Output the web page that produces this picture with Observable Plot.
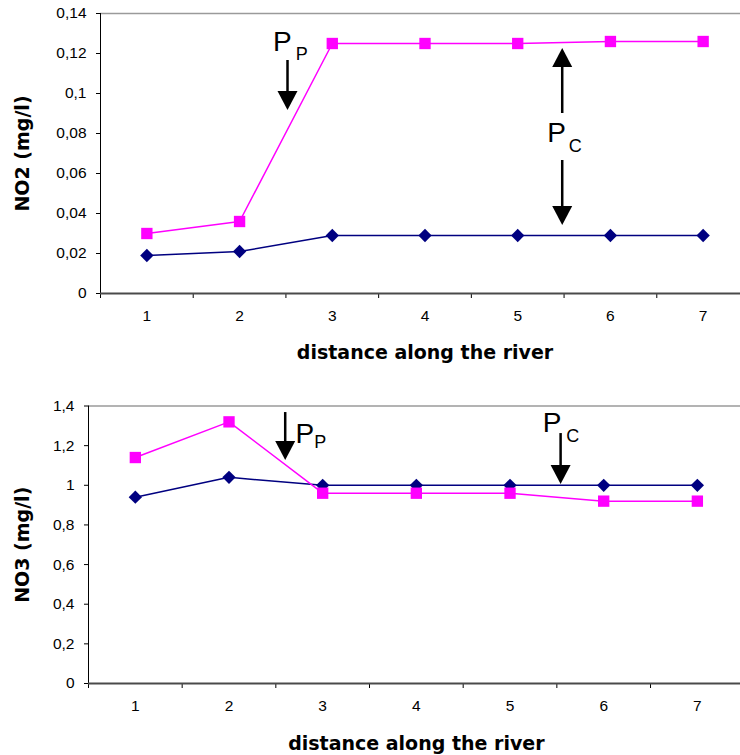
<!DOCTYPE html>
<html>
<head>
<meta charset="utf-8">
<script src="https://cdn.jsdelivr.net/npm/d3@7"></script>
<script src="https://cdn.jsdelivr.net/npm/@observablehq/plot@0.6"></script>
<style>
  html, body { margin: 0; padding: 0; background: #fff; overflow: hidden; width: 740px; height: 755px; }
  #chart > div, #chart svg { display: block; }
</style>
</head>
<body>
<div id="chart"></div>
<script>
// ---------- data ----------
const distance = [1, 2, 3, 4, 5, 6, 7];
const distanceLabels = ["1", "2", "3", "4", "5", "6", "7"];

const no2Pink = [0.030, 0.036, 0.125, 0.125, 0.125, 0.126, 0.126];
const no2Navy = [0.019, 0.021, 0.029, 0.029, 0.029, 0.029, 0.029];

const no3Pink = [1.14, 1.32, 0.96, 0.96, 0.96, 0.92, 0.92];
const no3Navy = [0.94, 1.04, 1.00, 1.00, 1.00, 1.00, 1.00];

const no2Ticks = [0, 0.02, 0.04, 0.06, 0.08, 0.10, 0.12, 0.14];
const no2TickLabels = ["0", "0,02", "0,04", "0,06", "0,08", "0,1", "0,12", "0,14"];
const no3Ticks = [0, 0.2, 0.4, 0.6, 0.8, 1.0, 1.2, 1.4];
const no3TickLabels = ["0", "0,2", "0,4", "0,6", "0,8", "1", "1,2", "1,4"];

const xTitle = "distance along the river";
const no2Title = "NO2 (mg/l)";
const no3Title = "NO3 (mg/l)";

// annotations (data coordinates)
const no2Shafts = [
  {x: 2.517, y1: 0.1165, y2: 0.1005},
  {x: 5.48, y1: 0.114, y2: 0.090},
  {x: 5.48, y1: 0.0665, y2: 0.043}
];
const no2Heads = [
  {x: 2.517, y: 0.0965, rot: 0},
  {x: 5.48, y: 0.118, rot: 180},
  {x: 5.48, y: 0.039, rot: 0}
];
const no2Labels = [
  {x: 2.46, y: 0.1255, t: "P", big: true},
  {x: 2.67, y: 0.1195, t: "P", big: false},
  {x: 5.42, y: 0.080, t: "P", big: true},
  {x: 5.62, y: 0.0735, t: "C", big: false}
];
const no3Shafts = [
  {x: 2.60, y1: 1.367, y2: 1.216},
  {x: 5.54, y1: 1.261, y2: 1.090}
];
const no3Heads = [
  {x: 2.60, y: 1.176, rot: 0},
  {x: 5.54, y: 1.054, rot: 0}
];
const no3Labels = [
  {x: 2.81, y: 1.261, t: "P", big: true},
  {x: 2.975, y: 1.216, t: "P", big: false},
  {x: 5.45, y: 1.312, t: "P", big: true},
  {x: 5.67, y: 1.246, t: "C", big: false}
];

// ---------- helpers ----------
const edges = distance.map(d => d - 0.5).concat([distance[distance.length - 1] + 0.5]);
const rows = (ys) => distance.map((d, i) => ({x: d, y: ys[i]}));

const arrowHead = {
  draw(context, size) {
    const r = Math.sqrt(size / Math.PI);
    context.moveTo(-r, -r * 0.95);
    context.lineTo(r, -r * 0.95);
    context.lineTo(0, r * 0.95);
    context.closePath();
  }
};

function chart({pink, navy, ticks, tickLabels, title, shafts, heads, labels,
                height, top, bottom, left, right, titleDx, xTitleDy}) {
  const yMax = ticks[ticks.length - 1];
  return Plot.plot({
    width: 740,
    height,
    marginLeft: left,
    marginTop: top,
    marginRight: 0,
    marginBottom: height - bottom,
    x: {domain: [edges[0], edges[edges.length - 1]], range: [left, right]},
    y: {domain: [0, yMax], range: [bottom, top]},
    style: {fontFamily: "'Liberation Sans', Arial, sans-serif", fontSize: "15.5px", color: "#000", background: "#fff", overflow: "hidden"},
    marks: [
      Plot.ruleY([yMax], {stroke: "#9a9a9a", strokeWidth: 1.5}),
      Plot.axisY({ticks, tickFormat: (d) => tickLabels[ticks.indexOf(d)], tickSize: 4, tickPadding: 10, label: null}),
      Plot.axisX({ticks: edges, tickFormat: () => "", tickSize: 5, label: null}),
      Plot.axisX({ticks: distance, tickFormat: (d) => distanceLabels[distance.indexOf(d)], tickSize: 0, tickPadding: 16, label: null}),
      Plot.ruleX([edges[0]], {stroke: "#000", strokeWidth: 1}),
      Plot.ruleY([0], {stroke: "#4a4a4a", strokeWidth: 2}),
      Plot.line(rows(navy), {x: "x", y: "y", stroke: "#000080", strokeWidth: 1.5}),
      Plot.line(rows(pink), {x: "x", y: "y", stroke: "#ff00ff", strokeWidth: 1.5}),
      Plot.dot(rows(navy), {x: "x", y: "y", symbol: "diamond2", r: 6, fill: "#000080", stroke: "none"}),
      Plot.dot(rows(pink), {x: "x", y: "y", symbol: "square", r: 6.4, fill: "#ff00ff", stroke: "none"}),
      Plot.ruleX(shafts, {x: "x", y1: "y1", y2: "y2", stroke: "#000", strokeWidth: 2.5}),
      Plot.dot(heads, {x: "x", y: "y", symbol: arrowHead, r: 10, rotate: "rot", fill: "#000", stroke: "none"}),
      Plot.text(labels.filter(d => d.big), {x: "x", y: "y", text: "t", fontSize: 28, fill: "#000"}),
      Plot.text(labels.filter(d => !d.big), {x: "x", y: "y", text: "t", fontSize: 18, fill: "#000"}),
      Plot.text([title], {frameAnchor: "left", dx: titleDx, rotate: -90, textAnchor: "middle", lineAnchor: "middle", fontWeight: "bold", fontSize: 19, fontFamily: "'DejaVu Sans', Verdana, sans-serif", fill: "#000"}),
      Plot.text([xTitle], {x: 4, frameAnchor: "bottom", dy: xTitleDy, textAnchor: "middle", lineAnchor: "middle", fontWeight: "bold", fontSize: 19, fontFamily: "'DejaVu Sans', Verdana, sans-serif", fill: "#000"})
    ]
  });
}

const root = document.getElementById("chart");
root.append(chart({
  pink: no2Pink, navy: no2Navy, ticks: no2Ticks, tickLabels: no2TickLabels, title: no2Title,
  shafts: no2Shafts, heads: no2Heads, labels: no2Labels,
  height: 370, top: 13, bottom: 293, left: 100, right: 749, titleDx: -78, xTitleDy: 59
}));
root.append(chart({
  pink: no3Pink, navy: no3Navy, ticks: no3Ticks, tickLabels: no3TickLabels, title: no3Title,
  shafts: no3Shafts, heads: no3Heads, labels: no3Labels,
  height: 385, top: 35.5, bottom: 313, left: 88, right: 743.7, titleDx: -66, xTitleDy: 60.5
}));
</script>
</body>
</html>
